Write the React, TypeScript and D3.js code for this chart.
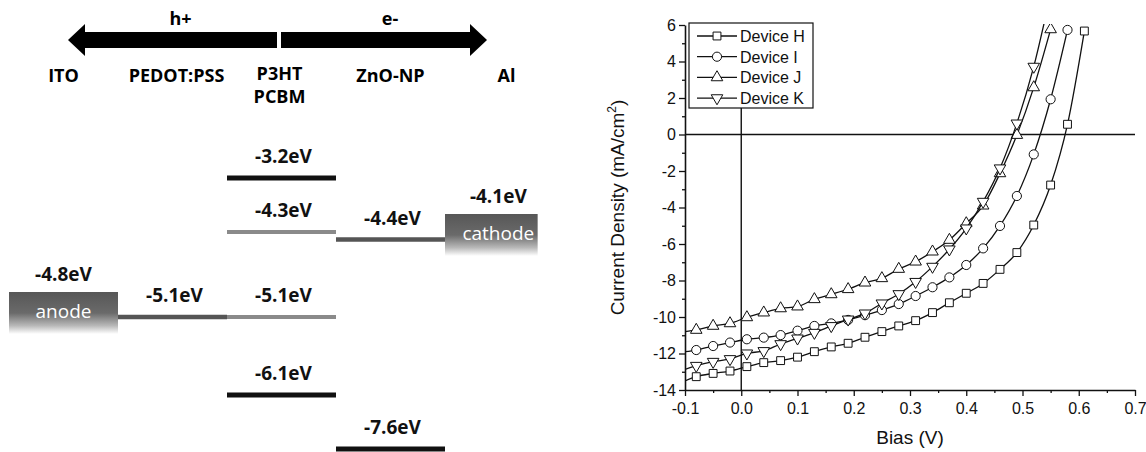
import React, { useEffect, useRef } from 'react';
import * as d3 from 'd3';

// ---- energy level diagram ----
const layers = ['ITO', 'PEDOT:PSS', 'P3HT PCBM', 'ZnO-NP', 'Al'];
const layerTitles = [['ITO'], ['PEDOT:PSS'], ['P3HT', 'PCBM'], ['ZnO-NP'], ['Al']];
const carriers = ['h+', 'e-'];

const levelLayer = ['PEDOT:PSS', 'P3HT PCBM', 'P3HT PCBM', 'P3HT PCBM', 'P3HT PCBM', 'ZnO-NP', 'ZnO-NP'];
const levelEnergy = [-5.1, -3.2, -4.3, -5.1, -6.1, -4.4, -7.6];
const levelShade = ['mid', 'dark', 'light', 'light', 'dark', 'mid', 'dark'];

const electrodeLayer = ['ITO', 'Al'];
const electrodeEnergy = [-4.8, -4.1];
const electrodeName = ['anode', 'cathode'];

// diagram is not to scale, every level has its own row
const energyRows = [-3.2, -4.1, -4.3, -4.4, -4.8, -5.1, -6.1, -7.6];

// ---- J-V curves ----
const bias = [-0.1, -0.08, -0.05, -0.02, 0.01, 0.04, 0.07, 0.1, 0.13, 0.16, 0.19, 0.22, 0.25,
  0.28, 0.31, 0.34, 0.37, 0.4, 0.43, 0.46, 0.49, 0.52, 0.55, 0.58, 0.61];
const deviceH = [-13.5, -13.27, -13.09, -12.96, -12.72, -12.5, -12.39, -12.2, -11.9, -11.64, -11.44,
  -11.11, -10.8, -10.49, -10.2, -9.76, -9.22, -8.7, -8.16, -7.39, -6.47, -4.96, -2.77, 0.56, 5.67];
const deviceI = [-11.9, -11.81, -11.59, -11.4, -11.22, -11.13, -10.99, -10.75, -10.49, -10.35, -10.16,
  -9.9, -9.62, -9.29, -8.85, -8.37, -7.83, -7.15, -6.24, -5.01, -3.37, -1.09, 1.93, 5.73, null];
const deviceJ = [-10.8, -10.71, -10.49, -10.35, -10.02, -9.76, -9.53, -9.43, -9.03, -8.76, -8.48,
  -8.12, -7.88, -7.37, -6.97, -6.42, -5.78, -4.87, -3.9, -2.13, -0.03, 2.58, 5.76, null, null];
const deviceK = [-12.87, -12.67, -12.45, -12.3, -11.99, -11.86, -11.48, -11.17, -10.86, -10.49, -10.13,
  -9.8, -9.25, -8.74, -8.07, -7.24, -6.29, -5.14, -3.68, -1.85, 0.61, 3.72, 7.7, null, null];
const deviceNames = ['Device H', 'Device I', 'Device J', 'Device K'];
const deviceValues = [deviceH, deviceI, deviceJ, deviceK];

const xDomain = [-0.1, 0.7];
const yDomain = [-14, 6];

const symbolFor = [d3.symbolSquare, d3.symbolCircle, d3.symbolTriangle, d3.symbolTriangle];
const symbolSize = [62, 66, 58, 58];
const symbolRot = [0, 0, 0, 180];

function drawDiagram(svg: any) {
  const col = d3.scaleBand().domain(layers).range([9, 554]);
  const bw = col.bandwidth();
  const cx = (l: string) => (col(l) as number) + bw / 2;
  const ey = d3.scaleLinear().domain(energyRows).range([178, 214, 232, 239.5, 292, 317, 395, 449]);
  const shadeColor: any = { dark: '#111', mid: '#555', light: '#8a8a8a' };
  const shadeWidth: any = { dark: 5, mid: 4.5, light: 4 };
  const font = "'Open Sans', 'DejaVu Sans', sans-serif";

  const defs = svg.append('defs');
  const grad = defs.append('linearGradient').attr('id', 'elec')
    .attr('x1', 0).attr('y1', 0).attr('x2', 0).attr('y2', 1);
  grad.append('stop').attr('offset', '0%').attr('stop-color', '#575757');
  grad.append('stop').attr('offset', '50%').attr('stop-color', '#6a6a6a');
  grad.append('stop').attr('offset', '80%').attr('stop-color', '#b8b8b8');
  grad.append('stop').attr('offset', '100%').attr('stop-color', '#fff');

  const g = svg.append('g').style('font-family', font).style('font-weight', 700);

  // double arrow
  const left = cx('ITO') + 4.5;
  const right = cx('Al') - 12.5;
  const mid = cx('P3HT PCBM') - 2.5;
  const ay = 40, sh = 8, hh = 16, hl = 17;
  const arrows = [
    [[mid - 2, ay - sh], [left + hl, ay - sh], [left + hl, ay - hh], [left, ay], [left + hl, ay + hh], [left + hl, ay + sh], [mid - 2, ay + sh]],
    [[mid + 2, ay - sh], [right - hl, ay - sh], [right - hl, ay - hh], [right, ay], [right - hl, ay + hh], [right - hl, ay + sh], [mid + 2, ay + sh]],
  ];
  g.selectAll('.arrow').data(arrows).join('path')
    .attr('d', (d: any) => 'M' + d.map((p: any) => p.join(',')).join('L') + 'Z')
    .attr('fill', '#000');
  g.selectAll('.carrier').data(carriers).join('text')
    .attr('x', (d: string, i: number) => (i === 0 ? (left + mid) / 2 : (mid + right) / 2) + 7)
    .attr('y', 25)
    .attr('text-anchor', 'middle')
    .style('font-size', '18px')
    .text((d: string) => d);

  // layer titles
  layers.forEach((l, i) => {
    layerTitles[i].forEach((t, j) => {
      g.append('text')
        .attr('x', cx(l) + (l === 'Al' ? 7 : 0) + (l === 'PEDOT:PSS' ? 4 : 0) - (l === 'P3HT PCBM' ? 2 : 0))
        .attr('y', 82 + j * 23 - (layerTitles[i].length > 1 ? 2 : 0))
        .attr('text-anchor', 'middle')
        .style('font-size', '18px')
        .text(t);
    });
  });

  // level bars
  levelEnergy.forEach((e, i) => {
    const l = levelLayer[i];
    g.append('rect')
      .attr('x', col(l) as number)
      .attr('y', ey(e) - shadeWidth[levelShade[i]] / 2)
      .attr('width', bw)
      .attr('height', shadeWidth[levelShade[i]])
      .attr('fill', shadeColor[levelShade[i]]);
    g.append('text')
      .attr('x', cx(l) + 2)
      .attr('y', ey(e) - 15)
      .attr('text-anchor', 'middle')
      .style('font-size', '19px')
      .attr('fill', '#111')
      .text(`${e.toFixed(1)}eV`);
  });

  // electrodes
  electrodeEnergy.forEach((e, i) => {
    const l = electrodeLayer[i];
    const w = l === 'Al' ? bw * 0.85 : bw;
    const x0 = col(l) as number;
    const shift = l === 'Al' ? 7 : 0;
    g.append('rect')
      .attr('x', x0).attr('y', ey(e))
      .attr('width', w).attr('height', 42)
      .attr('fill', 'url(#elec)');
    g.append('text')
      .attr('x', x0 + w / 2 + shift)
      .attr('y', ey(e) + 26)
      .attr('text-anchor', 'middle')
      .style('font-size', '19px')
      .style('font-weight', 400)
      .attr('fill', '#fff')
      .text(electrodeName[i]);
    g.append('text')
      .attr('x', x0 + w / 2 + shift)
      .attr('y', ey(e) - 11)
      .attr('text-anchor', 'middle')
      .style('font-size', '19px')
      .attr('fill', '#111')
      .text(`${e.toFixed(1)}eV`);
  });
}

function drawChart(svg: any) {
  const x = d3.scaleLinear().domain(xDomain).range([685, 1135]);
  const y = d3.scaleLinear().domain(yDomain).range([390, 25]);
  const font = "'Liberation Sans', Arial, sans-serif";
  const g = svg.append('g').style('font-family', font);

  svg.select('defs').append('clipPath').attr('id', 'plot')
    .append('rect').attr('x', 685).attr('y', 24).attr('width', 451).attr('height', 367);

  // zero lines
  g.append('line').attr('x1', x(xDomain[0])).attr('x2', x(xDomain[1]))
    .attr('y1', y(0)).attr('y2', y(0)).attr('stroke', '#111').attr('stroke-width', 1.4);
  g.append('line').attr('x1', x(0)).attr('x2', x(0))
    .attr('y1', y(yDomain[1])).attr('y2', y(yDomain[0])).attr('stroke', '#111').attr('stroke-width', 1.4);

  // axes
  const yAxis = g.append('g').attr('transform', `translate(${x(xDomain[0])},0)`)
    .call(d3.axisLeft(y).tickValues(d3.range(-14, 6.1, 2)).tickSize(6).tickSizeOuter(0).tickPadding(3)
      .tickFormat((d: any) => String(d)));
  g.append('g').attr('transform', `translate(${x(xDomain[0])},0)`)
    .call(d3.axisLeft(y).tickValues(d3.range(-13, 6, 2)).tickSize(3).tickFormat(() => ''))
    .select('.domain').remove();
  const xAxis = g.append('g').attr('transform', `translate(0,${y(yDomain[0])})`)
    .call(d3.axisBottom(x).tickValues(d3.range(-0.1, 0.71, 0.1)).tickSize(6).tickSizeOuter(0).tickPadding(7)
      .tickFormat((d: any) => (Math.abs(d) < 1e-9 ? 0 : d).toFixed(1)));
  g.append('g').attr('transform', `translate(0,${y(yDomain[0])})`)
    .call(d3.axisBottom(x).tickValues(d3.range(-0.05, 0.7, 0.1)).tickSize(3).tickFormat(() => ''))
    .select('.domain').remove();
  [yAxis, xAxis].forEach(a => {
    a.selectAll('text').style('font-size', '16px').attr('fill', '#111').style('font-family', font);
    a.select('.domain').attr('stroke-width', 1.6).attr('stroke', '#111');
  });
  g.selectAll('.tick line').attr('stroke', '#111').attr('stroke-width', 1.3);

  // curves
  const line = d3.line<any>()
    .defined(d => d[1] != null)
    .x(d => x(d[0]))
    .y(d => y(d[1]))
    .curve(d3.curveMonotoneX);
  const plot = g.append('g').attr('clip-path', 'url(#plot)');
  deviceValues.forEach((vals, k) => {
    const pts = bias.map((b, i) => [b, vals[i]]);
    plot.append('path').attr('d', line(pts)).attr('fill', 'none')
      .attr('stroke', '#111').attr('stroke-width', 1.3);
    const sym = d3.symbol().type(symbolFor[k]).size(symbolSize[k]);
    plot.selectAll(`.m${k}`).data(pts.filter((p, i) => i > 0 && p[1] != null && (p[1] as number) <= yDomain[1]))
      .join('path')
      .attr('transform', (d: any) => `translate(${x(d[0])},${y(d[1])}) rotate(${symbolRot[k]})`)
      .attr('d', sym())
      .attr('fill', '#fff').attr('stroke', '#111').attr('stroke-width', 1);
  });

  // legend
  const lg = g.append('g').attr('transform', 'translate(689,23)');
  lg.append('rect').attr('width', 124).attr('height', 85)
    .attr('fill', '#fff').attr('stroke', '#111').attr('stroke-width', 1.2);
  deviceNames.forEach((n, k) => {
    const cy = 13 + k * 20.7;
    lg.append('line').attr('x1', 8).attr('x2', 48).attr('y1', cy).attr('y2', cy)
      .attr('stroke', '#111').attr('stroke-width', 1.3);
    lg.append('path').attr('transform', `translate(28,${cy}) rotate(${symbolRot[k]})`)
      .attr('d', d3.symbol().type(symbolFor[k]).size(symbolSize[k])())
      .attr('fill', '#fff').attr('stroke', '#111');
    lg.append('text').attr('x', 51).attr('y', cy + 6).style('font-size', '16px').attr('fill', '#111').text(n);
  });

  // titles
  const yt = g.append('text')
    .attr('transform', `translate(624,${(y(yDomain[0]) + y(yDomain[1])) / 2}) rotate(-90)`)
    .attr('text-anchor', 'middle')
    .style('font-size', '19px').attr('fill', '#111');
  yt.append('tspan').text('Current Density (mA/cm');
  yt.append('tspan').attr('dy', -8).style('font-size', '12px').text('2');
  yt.append('tspan').attr('dy', 8).text(')');
  g.append('text').attr('x', (x(xDomain[0]) + x(xDomain[1])) / 2).attr('y', 444)
    .attr('text-anchor', 'middle').style('font-size', '19px').attr('fill', '#111').text('Bias (V)');
}

export default function App() {
  const ref = useRef<SVGSVGElement>(null);
  useEffect(() => {
    const svg = d3.select(ref.current);
    svg.selectAll('*').remove();
    drawDiagram(svg);
    drawChart(svg);
  }, []);
  return (
    <svg ref={ref} width={1146} height={452}
      style={{ position: 'absolute', left: 0, top: 0, background: '#fff' }} />
  );
}
